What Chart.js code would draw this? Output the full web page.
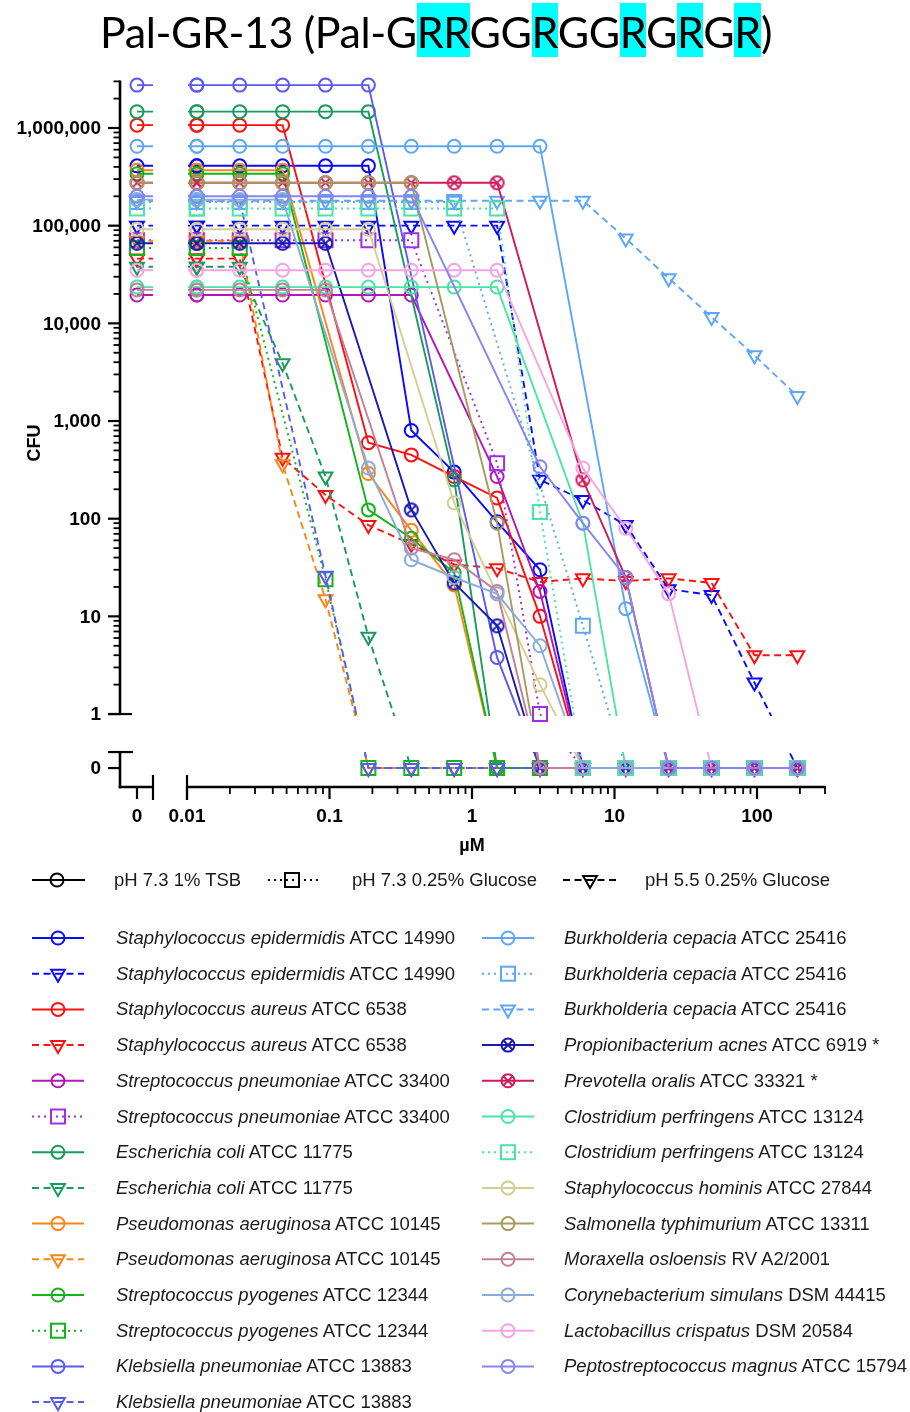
<!DOCTYPE html>
<html>
<head>
<meta charset="utf-8">
<script src="https://cdn.jsdelivr.net/npm/chart.js@4.4.1/dist/chart.umd.min.js"></script>
<style>
  html, body { margin: 0; padding: 0; background: #fff; }
  body { width: 910px; height: 1412px; position: relative; overflow: hidden; font-family: "Liberation Sans", Arial, sans-serif; color: #1a1a1a; }
  #title { position: absolute; left: 100px; top: 6px; font-family: Lato, "Open Sans", sans-serif; font-size: 43px; line-height: 52px; white-space: nowrap; color: #000; }
  #title .hl { background: #00ffff; padding-top: 3px; }
  #plot { position: absolute; left: 0; top: 0; width: 910px; height: 860px; }
  #legsvg { position: absolute; left: 0; top: 0; }
  .lt { position: absolute; font-size: 18.5px; line-height: 22px; white-space: nowrap; color: #1a1a1a; }
  .lt i { font-style: italic; }
</style>
</head>
<body>
<div id="plot"><canvas id="c" width="910" height="860"></canvas></div>
<div id="title">Pal-GR-13 (Pal-G<span class="hl">RR</span>GG<span class="hl">R</span>GG<span class="hl">R</span>G<span class="hl">R</span>G<span class="hl">R</span>)</div>
<svg id="legsvg" width="910" height="1412"></svg>
<div id="legtext"></div>
<script>
// ---------------- DATA ----------------
// peptide concentration (µM); 0 = untreated control
const CONC = [0, 0.01171875, 0.0234375, 0.046875, 0.09375, 0.1875, 0.375, 0.75, 1.5, 3, 6, 12, 24, 48, 96, 192];

// CFU per strain / medium (null = no point shown)
const epidermidis_TSB  = [410000,410000,410000,410000,410000,410000,800,300,93,30,0,0,0,0,0,0];
const epidermidis_pH55 = [100000,100000,100000,100000,100000,100000,100000,100000,100000,250,155,86,19,16.5,2.1,0];
const aureus_TSB       = [1070000,1070000,1070000,1070000,null,600,450,270,163,10,0,0,0,0,0,0];
const aureus_pH55      = [46000,46000,46000,420,175,86,55,34,31,22.5,24.5,23,24.5,22,4,4];
const pneumoniae_TSB   = [19500,19500,19500,19500,19500,19500,19500,null,270,18,0,0,0,0,0,0];
const pneumoniae_Glc   = [71000,71000,71000,71000,71000,71000,71000,null,370,1,0,0,0,0,0,0];
const coli_TSB         = [1470000,1470000,1470000,1470000,1470000,1470000,null,250,0,0,0,0,0,0,0,0];
const coli_pH55        = [38000,38000,38000,3900,270,6.2,0,0,0,0,0,0,0,0,0,0];
const aeruginosa_TSB   = [370000,370000,370000,370000,null,290,76,21,0,0,0,0,0,0,0,0];
const aeruginosa_pH55  = [70000,70000,70000,360,15,0,0,0,0,0,0,0,0,0,0,0];
const pyogenes_TSB     = [340000,340000,340000,340000,null,123,63,28,0,0,0,0,0,0,0,0];
const pyogenes_Glc     = [59000,59000,59000,null,24,0,0,0,0,0,0,0,0,0,0,0];
const klebsiella_TSB   = [2750000,2750000,2750000,2750000,2750000,2750000,null,null,3.8,0,0,0,0,0,0,0];
const klebsiella_pH55  = [180000,180000,180000,null,26,0,0,0,0,0,0,0,0,0,0,0];
const cepacia_TSB      = [650000,650000,650000,650000,650000,650000,650000,650000,650000,650000,null,12,0,0,0,0];
const cepacia_Glc      = [175000,175000,175000,175000,175000,175000,175000,175000,null,null,8,0,0,0,0,0];
const cepacia_pH55     = [180000,180000,180000,180000,180000,180000,180000,180000,180000,180000,180000,74000,29000,11600,4700,1800];
const acnes_TSB        = [66000,66000,66000,66000,66000,null,123,22,8,0,0,0,0,0,0,0];
const oralis_TSB       = [275000,275000,275000,275000,275000,275000,275000,275000,275000,null,250,25,0,0,0,0];
const perfringens_TSB  = [23500,23500,23500,23500,23500,23500,23500,23500,23500,null,90,0,0,0,0,0];
const perfringens_Glc  = [150000,150000,150000,150000,150000,150000,150000,150000,150000,117,0,0,0,0,0,0];
const hominis_TSB      = [92000,92000,92000,92000,92000,92000,null,145,null,2,0,0,0,0,0,0];
const typhimurium_TSB  = [275000,275000,275000,275000,275000,275000,275000,null,90,0,0,0,0,0,0,0];
const osloensis_TSB    = [22000,22000,22000,22000,22000,null,50,38,18,0,0,0,0,0,0,0];
const simulans_TSB     = [185000,185000,185000,185000,null,330,38,25,17,5,0,0,0,0,0,0];
const crispatus_TSB    = [35000,35000,35000,35000,35000,35000,35000,35000,35000,null,330,80,17,0,0,0];
const magnus_TSB       = [200000,200000,200000,200000,200000,200000,200000,null,null,340,90,25,0,0,0,0];

const SERIES = [epidermidis_TSB, epidermidis_pH55, aureus_TSB, aureus_pH55, pneumoniae_TSB, pneumoniae_Glc,
  coli_TSB, coli_pH55, aeruginosa_TSB, aeruginosa_pH55, pyogenes_TSB, pyogenes_Glc, klebsiella_TSB, klebsiella_pH55,
  cepacia_TSB, cepacia_Glc, cepacia_pH55, acnes_TSB, oralis_TSB, perfringens_TSB, perfringens_Glc,
  hominis_TSB, typhimurium_TSB, osloensis_TSB, simulans_TSB, crispatus_TSB, magnus_TSB];

const SPECIES = ['Staphylococcus epidermidis','Staphylococcus epidermidis','Staphylococcus aureus','Staphylococcus aureus',
  'Streptococcus pneumoniae','Streptococcus pneumoniae','Escherichia coli','Escherichia coli',
  'Pseudomonas aeruginosa','Pseudomonas aeruginosa','Streptococcus pyogenes','Streptococcus pyogenes',
  'Klebsiella pneumoniae','Klebsiella pneumoniae','Burkholderia cepacia','Burkholderia cepacia','Burkholderia cepacia',
  'Propionibacterium acnes','Prevotella oralis','Clostridium perfringens','Clostridium perfringens',
  'Staphylococcus hominis','Salmonella typhimurium','Moraxella osloensis','Corynebacterium simulans',
  'Lactobacillus crispatus','Peptostreptococcus magnus'];
const STRAINS = ['ATCC 14990','ATCC 14990','ATCC 6538','ATCC 6538','ATCC 33400','ATCC 33400','ATCC 11775','ATCC 11775',
  'ATCC 10145','ATCC 10145','ATCC 12344','ATCC 12344','ATCC 13883','ATCC 13883','ATCC 25416','ATCC 25416','ATCC 25416',
  'ATCC 6919 *','ATCC 33321 *','ATCC 13124','ATCC 13124','ATCC 27844','ATCC 13311','RV A2/2001','DSM 44415',
  'DSM 20584','ATCC 15794'];
// medium of each series: T = pH 7.3 1% TSB, G = pH 7.3 0.25% Glucose, A = pH 5.5 0.25% Glucose
const MEDIUM = ['T','A','T','A','T','G','T','A','T','A','T','G','T','A','T','G','A','T','T','T','G','T','T','T','T','T','T'];
const MEDIA = ['T','G','A'];
const MEDIA_LABELS = ['pH 7.3 1% TSB','pH 7.3 0.25% Glucose','pH 5.5 0.25% Glucose'];

const Y_TICKS = [1, 10, 100, 1000, 10000, 100000, 1000000];
const Y_TICK_LABELS = ['1','10','100','1,000','10,000','100,000','1,000,000'];
const X_TICKS = [0.01, 0.1, 1, 10, 100];
const X_TICK_LABELS = ['0.01','0.1','1','10','100'];
const Y_MAX = 3000000, X_MAX = 305;

// ---------------- STYLE ----------------
const COLORS = ['#0a0aff','#0a0aff','#ff1010','#ff1010','#b418b4','#a02ee8','#179c5c','#179c5c','#ff8417','#ff8417',
  '#12b41a','#12b41a','#5a5af0','#5a5af0','#5ea6f6','#5ea6f6','#5ea6f6','#1a1ab2','#d01a5c','#4ae4a8','#4ae4a8',
  '#d4ce90','#a89a60','#c4809a','#88acdc','#f4a4e4','#8686f2'];
const CROSSED = [17, 18]; // circle-with-x markers
const DASH = { T: [], G: [2, 4], A: [7, 4.5] };

// ---------------- BROKEN LOG SCALE ----------------
class BrokenLogScale extends Chart.LinearScale {
  determineDataLimits() { this.min = this.options.tmin; this.max = this.options.tmax; }
  toT(v) { return v > 0 ? Math.log10(v) : this.options.zeroAt; }
  getPixelForValue(v) {
    if (v === null || v === undefined || Number.isNaN(v)) return NaN;
    return super.getPixelForValue(this.toT(v));
  }
}
BrokenLogScale.id = 'brokenLog';
BrokenLogScale.defaults = Chart.LinearScale.defaults;
Chart.register(BrokenLogScale);

function crossCircle(color) {
  const c = document.createElement('canvas'); c.width = 19; c.height = 19;
  const g = c.getContext('2d'); g.strokeStyle = color; g.lineWidth = 2;
  g.beginPath(); g.arc(9.5, 9.5, 6.5, 0, Math.PI * 2); g.stroke();
  const d = 4.6; g.beginPath();
  g.moveTo(9.5 - d, 9.5 - d); g.lineTo(9.5 + d, 9.5 + d);
  g.moveTo(9.5 + d, 9.5 - d); g.lineTo(9.5 - d, 9.5 + d); g.stroke();
  return c;
}

function markerOpts(i) {
  if (CROSSED.includes(i)) return { pointStyle: crossCircle(COLORS[i]), pointRadius: 7, pointRotation: 0 };
  const m = MEDIUM[i];
  if (m === 'G') return { pointStyle: 'rect', pointRadius: 9.9, pointRotation: 0 };
  if (m === 'A') return { pointStyle: 'triangle', pointRadius: 8, pointRotation: 180 };
  return { pointStyle: 'circle', pointRadius: 6.5, pointRotation: 0 };
}

const datasets = SERIES.map((vals, i) => Object.assign({
  label: SPECIES[i] + ' ' + STRAINS[i],
  data: CONC.map((x, k) => ({ x: x, y: vals[k] })),
  borderColor: COLORS[i],
  backgroundColor: 'rgba(0,0,0,0)',
  pointBorderColor: COLORS[i],
  pointBackgroundColor: 'rgba(0,0,0,0)',
  pointBorderWidth: 2,
  borderWidth: 1.9,
  borderDash: DASH[MEDIUM[i]],
  tension: 0,
  spanGaps: true,
  fill: false,
  clip: false,
  order: -i
}, markerOpts(i)));

// geometry of the axis breaks, derived from the scales
function gaps(chart) {
  const X = chart.scales.x, Y = chart.scales.y;
  return {
    xa: X.getPixelForValue(0) + 16,      // end of the "0" x segment
    xc: X.getPixelForValue(0.01) + 1,    // start of the log x segment
    yb: Y.getPixelForValue(1) + 2,       // bottom of the log y segment
    yd: Y.getPixelForValue(0) - 16       // top of the "0" y segment
  };
}

function seg(ctx, x1, y1, x2, y2) { ctx.beginPath(); ctx.moveTo(x1, y1); ctx.lineTo(x2, y2); ctx.stroke(); }

function drawAxes(chart) {
  const ctx = chart.ctx, X = chart.scales.x, Y = chart.scales.y, A = chart.chartArea;
  const px = v => X.getPixelForValue(v), py = v => Y.getPixelForValue(v);
  const ax = A.left, ay = A.bottom, g = gaps(chart);
  ctx.save();
  ctx.strokeStyle = '#000'; ctx.fillStyle = '#000'; ctx.lineCap = 'butt';
  // y main (log) segment
  ctx.lineWidth = 2.6;
  seg(ctx, ax, py(Y_MAX) - 1, ax, py(1));
  ctx.lineWidth = 2.2;
  Y_TICKS.forEach(v => seg(ctx, ax - 12, py(v), ax, py(v)));
  seg(ctx, ax - 12, py(1), ax + 12, py(1));
  ctx.lineWidth = 1.8;
  for (let d = 0; d <= 6; d++) for (let k = 2; k <= 9; k++) {
    const v = k * Math.pow(10, d); if (v <= Y_MAX * 1.001) seg(ctx, ax - 6.5, py(v), ax, py(v));
  }
  // y zero segment
  ctx.lineWidth = 2.6;
  seg(ctx, ax, g.yd, ax, ay + 1.3);
  ctx.lineWidth = 2.2;
  seg(ctx, ax - 12, g.yd, ax + 13, g.yd);
  seg(ctx, ax - 12, py(0), ax, py(0));
  // x zero segment
  ctx.lineWidth = 2.6;
  seg(ctx, ax - 1.3, ay, g.xa, ay);
  ctx.lineWidth = 2.2;
  seg(ctx, px(0), ay, px(0), ay + 12);
  seg(ctx, g.xa, ay - 12, g.xa, ay + 13);
  // x main (log) segment
  ctx.lineWidth = 2.6;
  seg(ctx, px(0.01), ay, A.right, ay);
  ctx.lineWidth = 2.2;
  seg(ctx, px(0.01), ay - 12, px(0.01), ay + 13);
  X_TICKS.forEach(v => seg(ctx, px(v), ay, px(v), ay + 12));
  ctx.lineWidth = 1.8;
  for (let d = -2; d <= 2; d++) for (let k = 2; k <= 9; k++) {
    const v = k * Math.pow(10, d); if (v <= X_MAX) seg(ctx, px(v), ay, px(v), ay + 7);
  }
  // labels
  ctx.font = 'bold 19px "Liberation Sans", Arial, sans-serif';
  ctx.textAlign = 'right'; ctx.textBaseline = 'middle';
  Y_TICKS.forEach((v, i) => ctx.fillText(Y_TICK_LABELS[i], ax - 19, py(v) + 1));
  ctx.fillText('0', ax - 19, py(0) + 1);
  ctx.textAlign = 'center';
  ctx.fillText('0', px(0), 817);
  X_TICKS.forEach((v, i) => ctx.fillText(X_TICK_LABELS[i], px(v), 817));
  ctx.font = 'bold 18px "Liberation Sans", Arial, sans-serif';
  ctx.fillText('µM', px(1), 846);
  ctx.save(); ctx.translate(35, 443); ctx.rotate(-Math.PI / 2);
  ctx.fillText('CFU', 0, 0); ctx.restore();
  ctx.restore();
}

const brokenAxes = {
  id: 'brokenAxes',
  beforeDatasetsDraw(chart) {
    const ctx = chart.ctx, g = gaps(chart), W = chart.width, H = chart.height;
    ctx.save();
    ctx.beginPath();
    ctx.rect(0, 0, g.xa, g.yb);
    ctx.rect(g.xc, 0, W - g.xc, g.yb);
    ctx.rect(0, g.yd, g.xa, H - g.yd);
    ctx.rect(g.xc, g.yd, W - g.xc, H - g.yd);
    ctx.clip();
  },
  afterDatasetsDraw(chart) {
    const ctx = chart.ctx, g = gaps(chart);
    ctx.restore();
    // markers cut by the break clip are drawn again, whole
    chart.data.datasets.forEach((ds, i) => {
      chart.getDatasetMeta(i).data.forEach(pt => {
        if (pt.skip) return;
        const near = (pt.y > g.yb - 12 && pt.y < g.yd + 12) || (pt.x > g.xa - 12 && pt.x < g.xc + 12);
        if (near) pt.draw(ctx);
      });
    });
    drawAxes(chart);
  }
};

new Chart(document.getElementById('c'), {
  type: 'line',
  data: { datasets: datasets },
  options: {
    responsive: false,
    animation: false,
    events: [],
    layout: { padding: { left: 120, right: 84, top: 81.4, bottom: 73 } },
    scales: {
      x: { type: 'brokenLog', display: false, bounds: 'data', tmin: -2.4702, tmax: 2.4842, zeroAt: -2.3509 },
      y: { type: 'brokenLog', display: false, bounds: 'data', tmin: -0.747, tmax: Math.log10(Y_MAX), zeroAt: -0.553 }
    },
    plugins: { legend: { display: false }, tooltip: { enabled: false } }
  },
  plugins: [brokenAxes]
});

// ---------------- LEGENDS (HTML/SVG, from the same arrays) ----------------
const NS = 'http://www.w3.org/2000/svg';
const svg = document.getElementById('legsvg');
const legtext = document.getElementById('legtext');
function el(tag, attrs) { const e = document.createElementNS(NS, tag); for (const k in attrs) e.setAttribute(k, attrs[k]); svg.appendChild(e); return e; }
function sample(x1, x2, xm, y, color, medium, crossed) {
  const dash = DASH[medium].join(',');
  el('line', { x1: x1, y1: y, x2: x2, y2: y, stroke: color, 'stroke-width': 2, 'stroke-dasharray': dash || 'none' });
  const common = { fill: 'none', stroke: color, 'stroke-width': 2 };
  if (crossed) {
    el('circle', Object.assign({ cx: xm, cy: y, r: 6.5 }, common));
    const d = 4.6;
    el('path', Object.assign({ d: `M${xm-d},${y-d}L${xm+d},${y+d}M${xm+d},${y-d}L${xm-d},${y+d}` }, common));
  } else if (medium === 'G') {
    el('rect', Object.assign({ x: xm - 7, y: y - 7, width: 14, height: 14 }, common));
  } else if (medium === 'A') {
    el('polygon', Object.assign({ points: `${xm-6.9},${y-4} ${xm+6.9},${y-4} ${xm},${y+8}` }, common));
  } else {
    el('circle', Object.assign({ cx: xm, cy: y, r: 6.5 }, common));
  }
}
function text(x, y, html) {
  const d = document.createElement('div'); d.className = 'lt';
  d.style.left = x + 'px'; d.style.top = (y - 11) + 'px'; d.innerHTML = html; legtext.appendChild(d);
}
// medium key
const keyPos = [{ x1: 32, x2: 85, xm: 57, tx: 114 }, { x1: 268, x2: 322, xm: 292, tx: 352 }, { x1: 563, x2: 618, xm: 590, tx: 645 }];
MEDIA.forEach((m, i) => { const p = keyPos[i]; sample(p.x1, p.x2, p.xm, 880, '#000', m, false); text(p.tx, 880, MEDIA_LABELS[i]); });
// strain key
SERIES.forEach((s, i) => {
  const col = i < 14 ? 0 : 1, row = col ? i - 14 : i;
  const y = 938 + 35.7 * row;
  const p = col ? { x1: 482, x2: 534, xm: 508, tx: 564 } : { x1: 32, x2: 84, xm: 58, tx: 116 };
  sample(p.x1, p.x2, p.xm, y, COLORS[i], MEDIUM[i], CROSSED.includes(i));
  text(p.tx, y, '<i>' + SPECIES[i] + '</i> ' + STRAINS[i]);
});

// fit title width to the reference (left 100 → right 772)
const t = document.getElementById('title');
const w = t.getBoundingClientRect().width;
t.style.letterSpacing = ((672 - w) / t.textContent.length).toFixed(2) + 'px';
</script>
</body>
</html>
